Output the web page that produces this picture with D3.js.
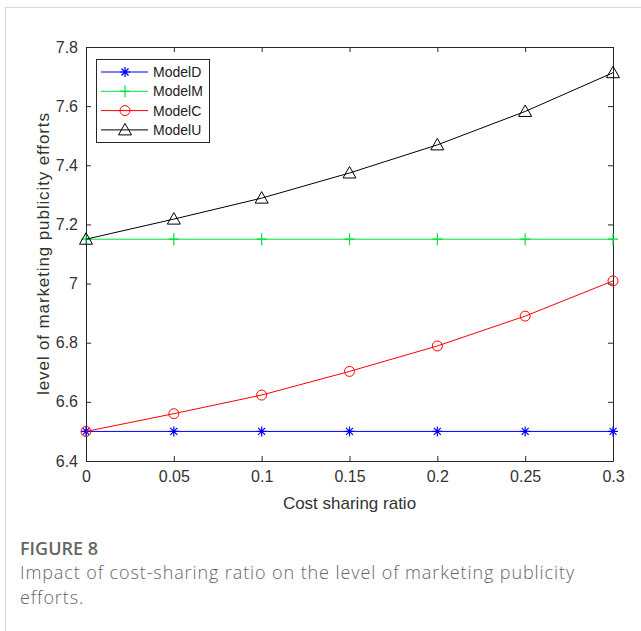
<!DOCTYPE html>
<html>
<head>
<meta charset="utf-8">
<script src="https://cdn.jsdelivr.net/npm/d3@7"></script>
<style>
  body { margin: 0; background: #fff; }
  svg { display: block; }
</style>
</head>
<body>
<svg id="chart" width="641" height="631"></svg>
<script>
// data
const ratios = [0, 0.05, 0.1, 0.15, 0.2, 0.25, 0.3];
const modelD = [6.5, 6.5, 6.5, 6.5, 6.5, 6.5, 6.5];
const modelM = [7.15, 7.15, 7.15, 7.15, 7.15, 7.15, 7.15];
const modelC = [6.5, 6.56, 6.623, 6.703, 6.789, 6.89, 7.009];
const modelU = [7.15, 7.218, 7.289, 7.374, 7.469, 7.582, 7.713];
const seriesNames = ["ModelD", "ModelM", "ModelC", "ModelU"];
const xTicks = [0, 0.05, 0.1, 0.15, 0.2, 0.25, 0.3];
const yTicks = [6.4, 6.6, 6.8, 7, 7.2, 7.4, 7.6, 7.8];

const svg = d3.select("#chart");

// card border
svg.append("rect")
  .attr("x", 5.5).attr("y", 7.5)
  .attr("width", 700).attr("height", 700)
  .attr("fill", "none").attr("stroke", "#d9d9d9");

const plotL = 86, plotR = 613, plotT = 47, plotB = 461;

const x = d3.scaleLinear().domain([0, 0.3]).range([plotL, plotR]);
const y = d3.scaleLinear().domain([6.4, 7.8]).range([plotB, plotT]);

const axisColor = "#262626";
const fontFam = "'Liberation Sans', Arial, sans-serif";

// axes, ticks inward on every side (matlab box)
const fmt = d => String(d);
svg.append("g").attr("transform", `translate(0,${plotB})`)
  .call(d3.axisBottom(x).tickValues(xTicks).tickFormat(fmt).tickSizeInner(-5).tickSizeOuter(0).tickPadding(10));
svg.append("g").attr("transform", `translate(0,${plotT})`)
  .call(d3.axisTop(x).tickValues(xTicks).tickFormat("").tickSizeInner(-5).tickSizeOuter(0));
svg.append("g").attr("transform", `translate(${plotL},0)`)
  .call(d3.axisLeft(y).tickValues(yTicks).tickFormat(fmt).tickSizeInner(-5).tickSizeOuter(0).tickPadding(8));
svg.append("g").attr("transform", `translate(${plotR},0)`)
  .call(d3.axisRight(y).tickValues(yTicks).tickFormat("").tickSizeInner(-5).tickSizeOuter(0));

svg.selectAll(".domain").attr("stroke", axisColor);
svg.selectAll(".tick line").attr("stroke", axisColor);
svg.selectAll(".tick text")
  .attr("fill", "#333").attr("font-size", 16).attr("font-family", fontFam);

// axis titles
svg.append("text")
  .attr("x", (plotL + plotR) / 2).attr("y", 509)
  .attr("text-anchor", "middle")
  .attr("font-size", 17).attr("font-family", fontFam).attr("fill", "#333")
  .text("Cost sharing ratio");
svg.append("text")
  .attr("transform", `translate(49,${(plotT + plotB) / 2}) rotate(-90)`)
  .attr("text-anchor", "middle")
  .attr("font-size", 17).attr("font-family", fontFam).attr("fill", "#333")
  .attr("textLength", 282).attr("lengthAdjust", "spacing")
  .text("level of marketing publicity efforts");

// marker painters
function marker(g, kind, color) {
  if (kind === "star") {
    g.append("path").attr("d", "M-5,0H5M0,-5V5M-3.5,-3.5L3.5,3.5M-3.5,3.5L3.5,-3.5")
      .attr("stroke", color).attr("stroke-width", 1.2).attr("fill", "none");
  } else if (kind === "plus") {
    g.append("path").attr("d", "M-5,0H5M0,-6V6")
      .attr("stroke", color).attr("stroke-width", 1.2).attr("fill", "none");
  } else if (kind === "circle") {
    g.append("circle").attr("r", 5)
      .attr("stroke", color).attr("stroke-width", 1).attr("fill", "none");
  } else {
    g.append("path").attr("d", "M0,-6.5L6.5,5H-6.5Z")
      .attr("stroke", color).attr("stroke-width", 1).attr("fill", "none");
  }
}

const series = [
  { name: seriesNames[0], values: modelD, color: "#0000ff", kind: "star" },
  { name: seriesNames[1], values: modelM, color: "#00e040", kind: "plus" },
  { name: seriesNames[2], values: modelC, color: "#ff0000", kind: "circle" },
  { name: seriesNames[3], values: modelU, color: "#000000", kind: "tri" }
];

const line = d3.line().x(d => x(d[0])).y(d => y(d[1]));

series.forEach(s => {
  const pts = ratios.map((r, i) => [r, s.values[i]]);
  svg.append("path").datum(pts)
    .attr("d", line).attr("fill", "none")
    .attr("stroke", s.color).attr("stroke-width", 1);
  svg.append("g").selectAll("g").data(pts).enter().append("g")
    .attr("transform", d => `translate(${x(d[0])},${y(d[1])})`)
    .each(function () { marker(d3.select(this), s.kind, s.color); });
});

// legend
const lg = svg.append("g").attr("transform", "translate(96,59)");
lg.append("rect").attr("x", 0.5).attr("y", 0.5).attr("width", 113).attr("height", 83)
  .attr("fill", "#fff").attr("stroke", axisColor);
series.forEach((s, i) => {
  const ly = 13 + i * 19.3;
  lg.append("line").attr("x1", 5).attr("x2", 52).attr("y1", ly).attr("y2", ly)
    .attr("stroke", s.color).attr("stroke-width", 1);
  marker(lg.append("g").attr("transform", `translate(29,${ly})`), s.kind, s.color);
  lg.append("text").attr("x", 57).attr("y", ly + 5)
    .attr("font-size", 14).attr("font-family", fontFam).attr("fill", "#222")
    .text(s.name);
});

// caption
svg.append("text").attr("x", 20).attr("y", 555)
  .attr("font-size", 18).attr("font-family", "'Open Sans', sans-serif")
  .attr("font-weight", 600).attr("fill", "#666")
  .text("FIGURE 8");
svg.append("text").attr("x", 20).attr("y", 579)
  .attr("font-size", 18).attr("font-family", "'Open Sans', sans-serif")
  .attr("font-weight", 300).attr("fill", "#666").attr("letter-spacing", 0.9)
  .text("Impact of cost-sharing ratio on the level of marketing publicity");
svg.append("text").attr("x", 20).attr("y", 604)
  .attr("font-size", 18).attr("font-family", "'Open Sans', sans-serif")
  .attr("font-weight", 300).attr("fill", "#666").attr("letter-spacing", 0.9)
  .text("efforts.");
</script>
</body>
</html>
